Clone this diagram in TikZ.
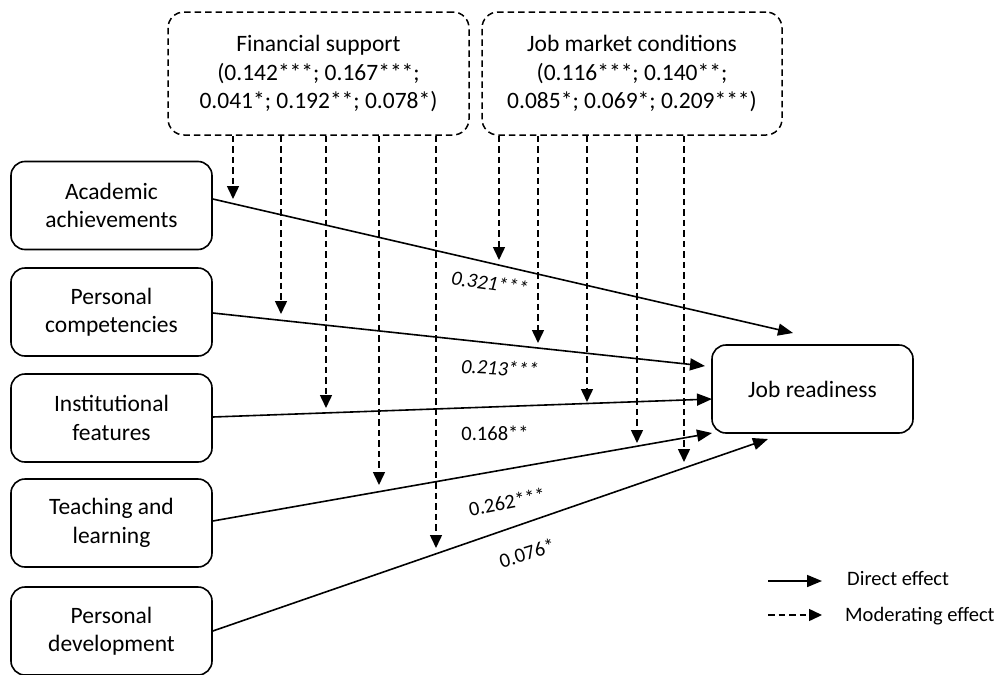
\documentclass[tikz,border=0pt]{standalone}
\usepackage{fontspec}
\setmainfont{Carlito}
\usetikzlibrary{arrows.meta,calc}
\tikzset{
  box/.style={draw, line width=1.6pt, rounded corners=14pt, minimum width=201pt, minimum height=88pt, align=center, inner sep=0pt, font=\fontsize{23.5}{28.5}\selectfont},
  modbox/.style={draw, line width=1.5pt, dash pattern=on 6.5pt off 4pt, rounded corners=16pt, minimum height=123pt, align=center, inner sep=0pt, font=\fontsize{23.5}{28.5}\selectfont},
  direct/.style={line width=1.6pt, -{Triangle[length=15pt,width=12pt]}},
  moder/.style={line width=1.5pt, dash pattern=on 6.5pt off 4pt, -{Triangle[length=13pt,width=12pt]}},
  coef/.style={font=\fontsize{20.5}{24}\selectfont, inner sep=0pt},
  leg/.style={font=\fontsize{20.5}{24}\selectfont, inner sep=0pt, anchor=west},
}
\begin{document}
\begin{tikzpicture}[x=1pt,y=-1pt]
\useasboundingbox (0,0) rectangle (1002,675);
% moderator boxes
\node[modbox, minimum width=301pt] (fs) at (318.5,73.5) {Financial support\\(0.142***; 0.167***;\\0.041*; 0.192**; 0.078*)};
\node[modbox, minimum width=300pt] (jm) at (632,73.5) {Job market conditions\\(0.116***; 0.140**;\\0.085*; 0.069*; 0.209***)};
% predictor boxes
\node[box] (aa) at (111.5,205.5) {Academic\\achievements};
\node[box] (pc) at (111.5,312) {Personal\\competencies};
\node[box] (if) at (111.5,418) {Institutional\\features};
\node[box] (tl) at (111.5,523) {Teaching and\\learning};
\node[box] (pd) at (111.5,631) {Personal\\development};
% outcome
\node[box] (jr) at (812.5,389) {Job readiness};
% arrow end points
\coordinate (e1) at (793,333);
\coordinate (e2) at (705,366);
\coordinate (e3) at (712,399);
\coordinate (e4) at (712,433);
\coordinate (e5) at (768,439);
\draw[direct] (aa.east |- 0,199) -- (e1);
\draw[direct] (pc.east |- 0,313) -- (e2);
\draw[direct] (if.east |- 0,417) -- (e3);
\draw[direct] (tl.east |- 0,521) -- (e4);
\draw[direct] (pd.east) -- (e5);
% moderating arrows
\coordinate (f1) at (233,199);
\coordinate (f2) at (281,314);
\coordinate (f3) at (326,408);
\coordinate (f4) at (379,485);
\coordinate (f5) at (436,548);
\coordinate (j1) at (499,260);
\coordinate (j2) at (538,343);
\coordinate (j3) at (587,402);
\coordinate (j4) at (637,443);
\coordinate (j5) at (684,462);
\foreach \c in {f1,f2,f3,f4,f5} \draw[moder] (fs.south -| \c) -- (\c);
\foreach \c in {j1,j2,j3,j4,j5} \draw[moder] (jm.south -| \c) -- (\c);
% coefficients
\node[coef, rotate=-8] (c1) at (490,283) {\itshape 0.321***};
\node[coef, rotate=-3] (c2) at (500,368) {\itshape 0.213***};
\node[coef] (c3) at (495,433) {0.168**};
\node[coef, rotate=11] (c4) at (507,502) {0.262***};
\node[coef, rotate=17] (c5) at (527,553) {0.076*};
% legend
\coordinate (la) at (768,581);
\coordinate (lb) at (822,581);
\coordinate (lc) at (768,615);
\coordinate (ld) at (822,615);
\draw[direct] (la) -- (lb);
\draw[moder] (lc) -- (ld);
\node[leg] (t1) at (847,578) {Direct effect};
\node[leg] (t2) at (845,616) {Moderating effect};
\end{tikzpicture}
\end{document}
